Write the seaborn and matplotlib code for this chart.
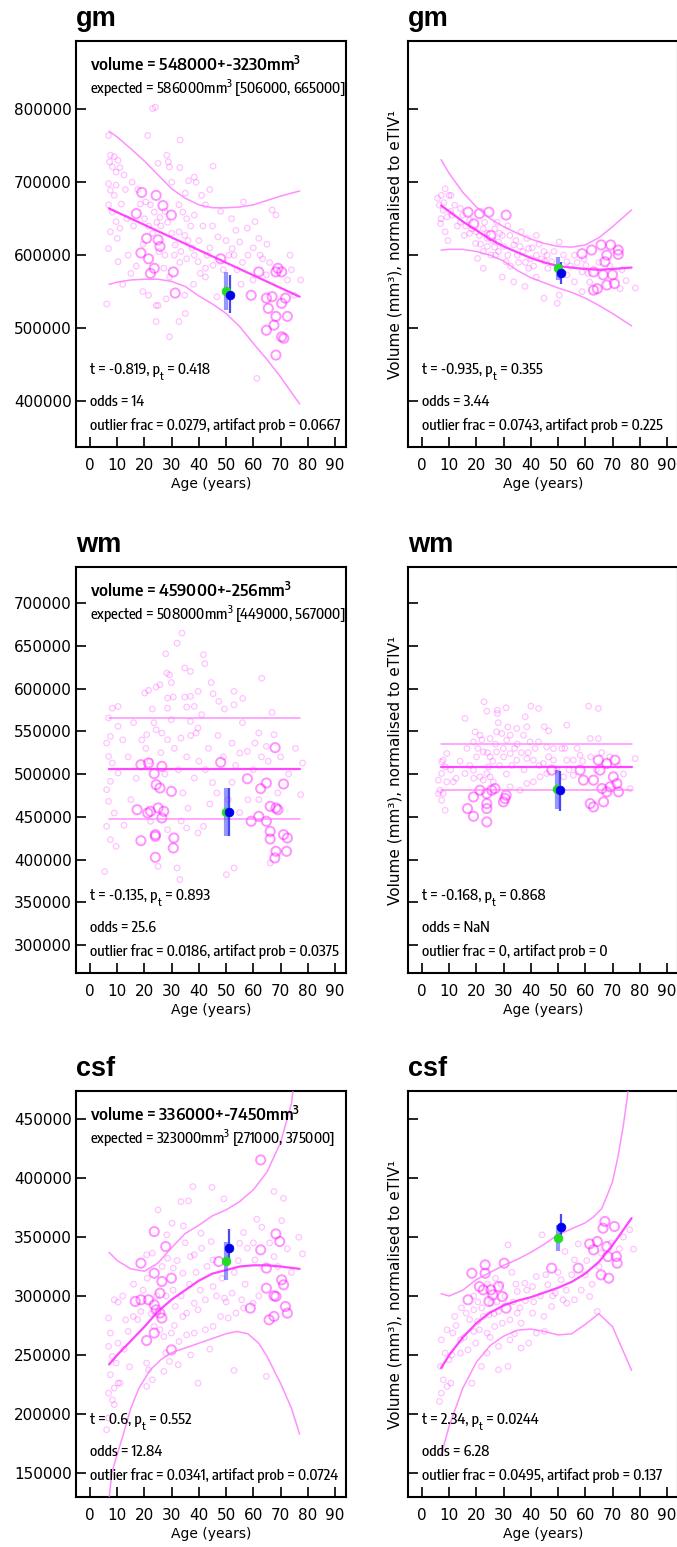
import os
import matplotlib
matplotlib.use("Agg")
import matplotlib.pyplot as plt
from matplotlib import font_manager as fm
from matplotlib.textpath import TextPath
import seaborn as sns

# ---------------- data ----------------
AGE_TICKS = [0, 10, 20, 30, 40, 50, 60, 70, 80, 90]
XLIM = (-5.15, 94.05)

GM_YTICKS = [400000, 500000, 600000, 700000, 800000]
GM_YLIM = (336900, 893700)
WM_YTICKS = [300000, 350000, 400000, 450000, 500000, 550000, 600000, 650000, 700000]
WM_YLIM = (267300, 742100)
CSF_YTICKS = [150000, 200000, 250000, 300000, 350000, 400000, 450000]
CSF_YLIM = (129700, 473700)

CURVE_AGE = [7, 10, 15, 20, 25, 30, 35, 40, 45, 50, 55, 60, 65, 70, 77]

# (age, volume, large-circle flag)
GM_LEFT_POINTS = [
    (23.0, 801000, 0), (24.0, 803000, 0), (6.8, 764000, 0), (21.2, 764000, 0), (33.1, 758000, 0),
    (7.5, 737000, 0), (8.9, 735000, 0), (7.2, 728000, 0), (10.3, 730000, 0), (8.2, 721000, 0),
    (9.6, 714000, 0), (11.0, 720000, 0), (28.2, 737000, 0), (28.8, 728000, 0), (29.2, 721000, 0),
    (25.0, 726000, 0), (45.2, 722000, 0), (38.3, 707000, 0), (36.2, 702000, 0), (39.0, 700000, 0),
    (6.8, 698000, 0), (9.6, 696000, 0), (7.5, 689000, 0), (8.9, 682000, 0), (19.0, 686000, 1),
    (24.3, 682000, 1), (26.8, 668000, 1), (29.9, 655000, 1), (17.0, 657000, 1), (20.5, 673000, 0),
    (22.2, 669000, 0), (23.6, 659000, 0), (25.7, 652000, 0), (32.7, 669000, 0), (34.1, 659000, 0),
    (35.5, 650000, 0), (38.3, 655000, 0), (41.0, 682000, 0), (42.4, 669000, 0), (56.4, 673000, 0),
    (66.9, 662000, 0), (68.3, 655000, 0), (6.8, 669000, 0), (8.2, 659000, 0), (9.6, 646000, 0),
    (11.0, 637000, 0), (7.5, 632000, 0), (10.0, 623000, 0), (6.8, 609000, 0), (10.3, 591000, 0),
    (20.8, 623000, 1), (25.0, 621000, 1), (25.7, 612000, 1), (25.3, 605000, 0), (18.7, 603000, 1),
    (21.5, 595000, 1), (23.6, 582000, 1), (27.1, 582000, 0), (30.6, 577000, 1), (22.2, 575000, 1),
    (29.2, 570000, 0), (32.7, 632000, 0), (34.8, 627000, 0), (31.3, 614000, 0), (33.4, 605000, 0),
    (35.5, 595000, 0), (38.3, 600000, 0), (39.7, 591000, 0), (42.4, 582000, 0), (45.2, 586000, 0),
    (48.0, 595000, 1), (53.6, 634000, 0), (57.8, 637000, 0), (60.6, 646000, 0), (62.0, 623000, 0),
    (55.0, 618000, 0), (52.2, 609000, 0), (52.9, 600000, 0), (63.4, 595000, 0), (62.0, 577000, 1),
    (59.9, 566000, 0), (64.8, 573000, 0), (69.0, 582000, 1), (68.3, 577000, 1), (70.4, 577000, 1),
    (72.5, 566000, 0), (77.4, 566000, 0), (59.2, 545000, 1), (64.8, 541000, 1), (66.9, 543000, 1),
    (71.8, 541000, 1), (70.4, 534000, 1), (65.5, 527000, 1), (68.3, 516000, 1), (72.5, 516000, 1),
    (67.6, 504000, 1), (64.8, 497000, 1), (70.4, 488000, 1), (71.2, 486000, 1), (68.3, 463000, 1),
    (61.3, 431000, 0), (29.2, 488000, 0), (32.7, 509000, 0), (24.3, 509000, 0), (25.0, 531000, 0),
    (19.4, 550000, 0), (21.5, 545000, 0), (24.3, 531000, 0), (31.3, 548000, 1), (34.8, 545000, 0),
    (42.4, 570000, 0), (46.6, 543000, 0), (6.1, 533000, 0), (12.0, 560000, 0), (15.0, 575000, 0),
    (14.0, 600000, 0), (16.0, 640000, 0), (13.0, 690000, 0), (45.0, 640000, 0), (50.0, 620000, 0),
    (58.0, 600000, 0), (74.0, 580000, 0), (37.0, 640000, 0), (27.5, 600000, 0), (19.5, 615000, 0),
    (15.5, 700000, 0), (17.5, 690000, 0), (18.5, 670000, 0), (20.0, 650000, 0), (21.5, 640000, 0),
    (23.0, 630000, 0), (24.5, 645000, 0), (26.0, 640000, 0), (27.5, 660000, 0), (28.5, 645000, 0),
    (30.0, 630000, 0), (31.0, 600000, 0), (33.0, 590000, 0), (36.0, 620000, 0), (37.5, 610000, 0),
    (40.0, 620000, 0), (41.5, 640000, 0), (43.0, 600000, 0), (44.0, 610000, 0), (47.0, 625000, 0),
    (49.0, 580000, 0), (51.0, 600000, 0), (54.0, 580000, 0), (56.0, 590000, 0), (60.0, 610000, 0),
    (62.5, 600000, 0), (65.0, 615000, 0), (66.0, 590000, 0), (73.5, 600000, 0), (75.0, 545000, 0),
    (17.0, 585000, 0), (13.5, 650000, 0), (12.5, 710000, 0), (11.5, 670000, 0), (30.0, 700000, 0),
    (33.0, 720000, 0), (35.0, 685000, 0), (44.0, 690000, 0), (48.0, 660000, 0), (52.0, 650000, 0),
    (55.5, 560000, 0), (38.0, 560000, 0), (28.0, 540000, 0), (35.0, 520000, 0), (40.5, 575000, 0),
]

GM_RIGHT_POINTS = [
    (5.7, 678000, 0), (7.1, 682000, 0), (8.5, 691000, 0), (9.9, 682000, 0), (6.4, 668500, 0),
    (7.8, 661600, 0), (9.2, 652500, 0), (6.8, 643400, 0), (8.5, 632000, 0), (10.6, 682000, 0),
    (12.0, 668500, 0), (14.1, 664000, 0), (16.9, 659000, 1), (21.1, 657000, 1), (24.6, 659000, 1),
    (30.9, 655000, 1), (19.0, 643000, 1), (22.5, 636500, 0), (25.3, 627000, 1), (28.1, 618000, 0),
    (23.9, 623000, 0), (26.7, 611000, 0), (19.7, 616000, 0), (22.5, 605000, 0), (20.4, 595500, 0),
    (25.3, 600000, 0), (32.3, 627000, 0), (36.4, 632000, 0), (38.5, 623000, 0), (42.0, 627000, 0),
    (39.2, 609000, 0), (44.8, 605000, 0), (47.6, 591000, 0), (50.4, 618000, 0), (56.0, 600000, 0),
    (58.8, 602000, 1), (62.3, 607000, 1), (65.8, 614000, 1), (69.3, 614000, 1), (72.1, 607000, 1),
    (72.1, 601000, 1), (67.9, 600000, 1), (67.2, 591000, 1), (60.2, 586000, 0), (63.0, 577000, 1),
    (66.5, 573000, 1), (70.0, 573000, 1), (70.7, 561000, 1), (67.9, 559000, 1), (64.4, 554000, 1),
    (63.0, 552000, 1), (72.8, 554000, 0), (78.4, 555000, 0), (49.7, 534000, 0), (44.8, 541000, 0),
    (37.8, 557000, 0), (33.7, 563500, 0), (29.5, 570000, 0), (22.5, 582000, 0), (42.0, 570000, 0),
    (53.2, 573000, 0), (56.0, 563500, 0), (58.8, 550000, 0), (18.3, 636000, 0), (21.1, 627000, 0),
    (26.7, 636000, 0), (29.5, 627000, 0), (33.7, 614000, 0), (35.0, 600000, 0), (30.9, 591000, 0),
    (28.1, 605000, 0), (42.0, 600000, 0), (46.2, 582000, 0), (53.2, 591000, 0), (58.8, 577000, 0),
    (61.6, 563000, 0), (50.4, 545000, 0), (39.2, 582000, 0), (14.1, 645000, 0), (15.5, 627000, 0),
    (27.5, 645000, 0), (31.5, 640000, 0), (24.0, 612000, 0), (36.0, 612000, 0), (40.0, 595000, 0),
    (45.0, 592000, 0), (11.0, 655000, 0), (17.5, 648000, 0),
    (15.0, 655000, 0), (16.0, 640000, 0), (17.5, 630000, 0), (20.0, 632000, 0), (21.5, 615000, 0),
    (23.0, 645000, 0), (24.0, 630000, 0), (26.0, 620000, 0), (27.0, 600000, 0), (28.5, 630000, 0),
    (30.0, 612000, 0), (31.5, 600000, 0), (32.5, 585000, 0), (34.5, 620000, 0), (35.5, 590000, 0),
    (37.0, 605000, 0), (38.0, 590000, 0), (40.5, 610000, 0), (41.0, 585000, 0), (43.0, 615000, 0),
    (44.0, 595000, 0), (46.0, 600000, 0), (48.5, 605000, 0), (52.0, 600000, 0), (54.5, 585000, 0),
    (57.0, 590000, 0), (59.5, 595000, 0), (61.0, 575000, 0), (65.0, 590000, 0), (69.0, 585000, 0),
    (73.5, 580000, 0), (75.0, 565000, 0), (8.0, 672000, 0), (10.5, 660000, 0), (13.0, 640000, 0),
    (7.0, 650000, 0), (9.5, 620000, 0),
]

WM_LEFT_POINTS = [
    (33.8, 664800, 0), (32.0, 653000, 0), (27.8, 640600, 0), (41.7, 639500, 0), (42.2, 629000, 0),
    (34.8, 624000, 0), (36.9, 620000, 0), (44.5, 607000, 0), (63.1, 612000, 0), (28.2, 618000, 0),
    (29.2, 616000, 0), (29.9, 607000, 0), (20.1, 594700, 0), (21.5, 597800, 0), (24.3, 601700, 0),
    (25.7, 604400, 0), (28.5, 588800, 0), (30.6, 590000, 0), (34.8, 590000, 0), (36.9, 590800, 0),
    (39.7, 596600, 0), (45.2, 593900, 0), (52.9, 596600, 0), (56.1, 588400, 0), (47.3, 585000, 0),
    (49.4, 576000, 0), (52.9, 581000, 0), (38.3, 579000, 0), (35.5, 578300, 0), (28.5, 577000, 0),
    (22.9, 576000, 0), (29.9, 563500, 0), (36.9, 561600, 0), (41.0, 569400, 0), (8.2, 577000, 0),
    (10.3, 579000, 0), (66.9, 572000, 0), (6.8, 565500, 0), (10.3, 555700, 0), (7.5, 544000, 0),
    (6.1, 536200, 0), (6.8, 520600, 0), (8.2, 512900, 0), (10.3, 501200, 0), (7.5, 491400, 0),
    (6.1, 481700, 0), (6.8, 468000, 0), (8.9, 454400, 0), (6.1, 438800, 0), (7.5, 423200, 0),
    (9.6, 415500, 0), (5.4, 386000, 0), (24.3, 551800, 0), (26.4, 547900, 0), (20.8, 546000, 0),
    (28.5, 540100, 0), (33.4, 542000, 0), (39.0, 547900, 0), (39.7, 553800, 0), (52.2, 536200, 0),
    (60.6, 536200, 0), (62.0, 547900, 0), (67.6, 546000, 0), (68.0, 530800, 1), (64.8, 532300, 0),
    (57.8, 526500, 0), (55.0, 524500, 0), (18.7, 510900, 1), (21.5, 512900, 1), (23.6, 500400, 1),
    (26.4, 509000, 1), (24.3, 487500, 1), (25.7, 483600, 1), (29.9, 479700, 1), (34.1, 477800, 0),
    (38.3, 495300, 0), (42.4, 505100, 0), (48.0, 513600, 1), (52.2, 490200, 0), (57.8, 494500, 1),
    (62.7, 482900, 1), (64.8, 489500, 1), (71.1, 488300, 1), (69.0, 477800, 0), (62.0, 470000, 0),
    (66.2, 462200, 1), (69.0, 458300, 1), (68.3, 460300, 1), (17.3, 458300, 1), (21.2, 454400, 1),
    (22.2, 456400, 1), (27.1, 456400, 1), (25.0, 460300, 1), (26.4, 448600, 1), (22.2, 444700, 0),
    (59.2, 444700, 1), (62.0, 450500, 1), (64.8, 444700, 1), (66.2, 433000, 1), (71.1, 429100, 1),
    (72.5, 425200, 1), (66.2, 424000, 1), (18.7, 422000, 1), (24.0, 429100, 1), (24.0, 427100, 1),
    (30.8, 425200, 1), (30.6, 413500, 1), (24.0, 402600, 1), (68.3, 409600, 1), (67.9, 401800, 1),
    (72.2, 409600, 1), (25.0, 392000, 0), (32.0, 390100, 0), (33.0, 376500, 0), (50.1, 382300, 0),
    (52.9, 390100, 0), (66.2, 396000, 0), (35.5, 436900, 0), (41.7, 438800, 0), (39.7, 431000, 0),
    (28.5, 434900, 0), (46.6, 477800, 0), (50.8, 470000, 0), (78.1, 512900, 0), (77.4, 475900, 0),
    (12.0, 540000, 0), (14.0, 520000, 0), (16.0, 560000, 0), (17.0, 495000, 0), (19.0, 540000, 0),
    (20.5, 530000, 0), (22.0, 515000, 0), (23.5, 560000, 0), (26.0, 525000, 0), (27.5, 500000, 0),
    (31.0, 530000, 0), (32.5, 505000, 0), (35.5, 520000, 0), (37.0, 545000, 0), (40.0, 515000, 0),
    (43.5, 530000, 0), (45.0, 490000, 0), (47.0, 545000, 0), (49.0, 520000, 0), (53.5, 510000, 0),
    (56.0, 560000, 0), (58.0, 470000, 0), (60.0, 505000, 0), (63.0, 520000, 0), (65.5, 515000, 0),
    (70.0, 520000, 0), (73.0, 500000, 0), (75.5, 530000, 0), (36.0, 460000, 0), (44.0, 465000, 0),
    (33.5, 445000, 0), (55.0, 455000, 0), (15.0, 470000, 0), (12.5, 440000, 0),
]

WM_RIGHT_POINTS = [
    (22.8, 584500, 0), (15.8, 565000, 0), (23.8, 573500, 0), (27.7, 574700, 0), (27.7, 570800, 0),
    (30.9, 577500, 0), (37.9, 566900, 0), (40.0, 579400, 0), (42.8, 576700, 0), (38.5, 555200, 0),
    (44.9, 555200, 0), (46.5, 550500, 0), (53.2, 557200, 0), (61.2, 579400, 0), (64.8, 576700, 0),
    (19.5, 549300, 0), (21.3, 545400, 0), (25.0, 541500, 0), (27.4, 549300, 0), (29.3, 547400, 0),
    (31.1, 539600, 0), (32.4, 545400, 0), (34.8, 553300, 0), (37.3, 545400, 0), (39.7, 537600, 0),
    (42.8, 537600, 0), (45.8, 531800, 0), (48.3, 529800, 0), (51.4, 529800, 0), (58.1, 522000, 0),
    (61.8, 541500, 0), (64.8, 541500, 0), (18.9, 537600, 0), (22.5, 526000, 0), (25.0, 520100, 0),
    (27.4, 526000, 0), (29.9, 529800, 0), (32.4, 524000, 0), (34.8, 516200, 0), (38.5, 518100, 0),
    (40.9, 516200, 0), (44.6, 512300, 0), (48.3, 516200, 0), (53.2, 516200, 0), (55.6, 516200, 0),
    (9.1, 524000, 0), (7.8, 516200, 0), (7.2, 514200, 0), (8.5, 508400, 0), (7.2, 500600, 0),
    (6.0, 492800, 0), (9.1, 490800, 0), (6.6, 481000, 0), (7.8, 477100, 0), (7.2, 469300, 0),
    (8.5, 457600, 0), (6.0, 477100, 0), (11.5, 490800, 0), (15.8, 500600, 0), (18.9, 504500, 0),
    (21.3, 496700, 0), (22.5, 492800, 0), (23.8, 500600, 0), (24.4, 508400, 0), (25.0, 496700, 0),
    (26.2, 490800, 0), (25.6, 481000, 1), (26.8, 483000, 1), (23.8, 477100, 1), (21.3, 481000, 1),
    (18.9, 473200, 1), (23.8, 465400, 1), (23.8, 459600, 1), (23.8, 444000, 1), (16.7, 459600, 1),
    (18.9, 450600, 1), (29.9, 467400, 1), (30.9, 475200, 1), (30.5, 471300, 1), (32.4, 485000, 0),
    (36.0, 481000, 0), (38.5, 488900, 0), (40.9, 490800, 0), (43.4, 496700, 0), (45.8, 500600, 0),
    (47.7, 504500, 1), (58.1, 504500, 1), (59.3, 492800, 1), (63.0, 492800, 1), (65.4, 504500, 1),
    (67.9, 512300, 1), (70.9, 516200, 1), (66.1, 483000, 1), (69.1, 485000, 1), (70.3, 496700, 1),
    (71.6, 488900, 1), (72.2, 479100, 1), (67.9, 479100, 1), (61.8, 465400, 1), (63.0, 461500, 1),
    (66.7, 467400, 1), (78.3, 518100, 0), (76.5, 483000, 0), (64.8, 516200, 1), (55.6, 498600, 0),
    (52.0, 496700, 0), (28.0, 560000, 0), (35.0, 535000, 0), (20.0, 520000, 0), (31.0, 500000, 0),
    (16.5, 530000, 0), (17.5, 510000, 0), (19.0, 495000, 0), (20.5, 530000, 0), (22.0, 540000, 0),
    (24.0, 525000, 0), (26.0, 515000, 0), (27.0, 535000, 0), (28.5, 510000, 0), (30.0, 520000, 0),
    (31.5, 555000, 0), (33.0, 510000, 0), (34.0, 530000, 0), (36.5, 525000, 0), (37.5, 505000, 0),
    (39.0, 525000, 0), (41.5, 530000, 0), (43.0, 510000, 0), (46.5, 520000, 0), (49.5, 505000, 0),
    (52.5, 530000, 0), (54.0, 505000, 0), (57.0, 530000, 0), (59.0, 515000, 0), (62.0, 520000, 0),
    (64.0, 505000, 0), (66.0, 525000, 0), (69.0, 520000, 0), (72.0, 510000, 0), (74.0, 500000, 0),
    (10.5, 505000, 0), (12.5, 495000, 0), (14.0, 515000, 0),
]

CSF_LEFT_POINTS = [
    (62.7, 415300, 1), (37.8, 392700, 0), (44.8, 392100, 0), (49.2, 382300, 0), (33.4, 380000, 0),
    (36.2, 380600, 0), (67.6, 388500, 0), (71.1, 382800, 0), (25.0, 373000, 0), (30.1, 361700, 0),
    (34.3, 359400, 0), (28.2, 351800, 0), (40.8, 353200, 0), (56.4, 353800, 0), (61.3, 365100, 0),
    (63.1, 358300, 0), (70.4, 363900, 0), (76.7, 349800, 0), (78.1, 335700, 0), (23.6, 354600, 1),
    (18.7, 327800, 1), (23.6, 319300, 1), (20.8, 334900, 0), (22.9, 336300, 0), (27.8, 341900, 1),
    (28.5, 332000, 0), (29.9, 315100, 1), (26.4, 312300, 1), (30.6, 323600, 0), (34.1, 319300, 0),
    (36.9, 333400, 0), (38.3, 334900, 0), (41.0, 340500, 0), (45.2, 330600, 0), (47.3, 329200, 1),
    (44.5, 346200, 0), (55.0, 344700, 0), (57.8, 340500, 0), (62.7, 339100, 1), (60.6, 330600, 0),
    (68.3, 352600, 1), (69.7, 346200, 1), (67.6, 333400, 0), (64.8, 323600, 1), (70.4, 313700, 1),
    (71.1, 309500, 1), (64.8, 306600, 1), (68.3, 299600, 1), (67.6, 300200, 1), (71.8, 291100, 1),
    (72.5, 285500, 1), (67.6, 282700, 1), (65.8, 279800, 1), (58.9, 289700, 1), (59.9, 293900, 0),
    (55.7, 296800, 0), (52.2, 302400, 0), (49.4, 298200, 0), (45.2, 308000, 0), (42.4, 296800, 0),
    (39.7, 288300, 0), (38.3, 293900, 0), (35.5, 285500, 0), (34.1, 282700, 0), (31.3, 291100, 0),
    (25.7, 302400, 1), (16.6, 295400, 1), (18.7, 296800, 1), (21.5, 296800, 1), (23.6, 292500, 1),
    (25.7, 285500, 1), (26.4, 281300, 1), (24.3, 288300, 1), (20.8, 262300, 1), (23.6, 268600, 1),
    (29.9, 254400, 1), (32.7, 261500, 0), (35.5, 267100, 0), (38.3, 268600, 0), (42.4, 271400, 0),
    (45.2, 274200, 0), (48.0, 282700, 0), (50.8, 281300, 0), (53.6, 285500, 0), (56.4, 289700, 0),
    (27.8, 251600, 0), (29.2, 244600, 0), (20.8, 243200, 0), (21.5, 237500, 0), (22.9, 229000, 0),
    (20.8, 223400, 0), (27.1, 236100, 0), (32.4, 241700, 0), (39.7, 226200, 0), (52.9, 236900, 0),
    (64.8, 231900, 0), (6.8, 281300, 0), (8.9, 296800, 0), (10.3, 294800, 0), (7.5, 268600, 0),
    (10.3, 260100, 0), (6.8, 257300, 0), (8.2, 248800, 0), (9.6, 243200, 0), (7.5, 233300, 0),
    (10.3, 226200, 0), (8.9, 222000, 0), (11.0, 226200, 0), (6.8, 217700, 0), (8.2, 212100, 0),
    (8.9, 207900, 0), (6.8, 196600, 0), (6.1, 186700, 0), (23.6, 274200, 0), (25.7, 271400, 0),
    (27.1, 265700, 0), (29.9, 268600, 0), (13.1, 279800, 0), (15.9, 282700, 0), (18.7, 286900, 0),
    (12.0, 300000, 0), (14.0, 270000, 0), (16.0, 310000, 0), (17.5, 280000, 0), (19.5, 305000, 0),
    (21.0, 315000, 0), (22.5, 285000, 0), (24.5, 300000, 0), (26.5, 325000, 0), (28.0, 300000, 0),
    (30.5, 305000, 0), (32.0, 330000, 0), (33.5, 300000, 0), (35.0, 345000, 0), (36.5, 310000, 0),
    (39.0, 320000, 0), (40.5, 305000, 0), (43.0, 325000, 0), (46.5, 300000, 0), (48.5, 315000, 0),
    (50.0, 295000, 0), (53.0, 320000, 0), (54.5, 330000, 0), (57.0, 310000, 0), (60.0, 345000, 0),
    (62.0, 300000, 0), (66.0, 345000, 0), (69.0, 325000, 0), (72.5, 340000, 0), (74.0, 320000, 0),
    (31.0, 275000, 0), (37.0, 250000, 0), (44.0, 255000, 0), (14.5, 240000, 0), (12.5, 255000, 0),
]

CSF_RIGHT_POINTS = [
    (67.2, 363100, 1), (70.7, 358900, 1), (66.5, 357400, 1), (61.6, 344200, 1), (64.4, 346200, 1),
    (67.9, 341900, 1), (63.0, 339100, 1), (65.8, 336300, 0), (71.4, 333400, 1), (71.7, 327800, 1),
    (68.3, 333400, 1), (65.8, 317900, 1), (68.6, 315100, 1), (57.4, 323600, 1), (56.0, 330600, 0),
    (52.5, 337700, 0), (57.4, 344200, 0), (47.6, 323600, 1), (44.1, 351800, 0), (31.6, 343300, 0),
    (77.7, 339700, 0), (76.3, 356100, 0), (23.2, 326400, 1), (23.2, 319300, 1), (18.3, 319300, 1),
    (30.2, 327800, 1), (21.1, 308000, 1), (22.5, 305200, 1), (25.3, 305200, 1), (28.1, 308000, 1),
    (29.5, 299600, 1), (24.6, 295400, 1), (16.9, 296800, 1), (26.0, 301000, 1), (35.0, 303800, 0),
    (37.8, 310900, 0), (40.6, 308000, 0), (42.0, 316500, 0), (46.2, 309500, 0), (49.0, 302400, 0),
    (51.8, 296800, 0), (56.0, 296800, 0), (53.2, 293900, 0), (61.6, 299600, 0), (51.1, 313700, 0),
    (47.6, 291100, 0), (44.8, 282700, 0), (40.6, 285500, 0), (35.0, 285500, 0), (30.9, 289700, 1),
    (28.1, 286900, 0), (25.3, 293900, 0), (24.6, 284100, 0), (22.5, 282700, 0), (20.4, 278400, 0),
    (21.1, 271400, 0), (23.9, 268600, 0), (26.7, 274200, 0), (29.5, 277000, 0), (32.3, 279800, 0),
    (36.4, 277000, 0), (42.0, 268600, 0), (39.2, 260100, 0), (36.4, 255900, 0), (32.3, 262900, 0),
    (28.1, 257300, 0), (23.9, 251600, 0), (19.7, 260100, 0), (16.9, 254400, 0), (14.1, 262900, 0),
    (11.3, 268600, 0), (9.2, 271400, 0), (7.1, 262900, 0), (8.5, 251600, 0), (9.9, 246000, 0),
    (6.8, 240300, 0), (7.8, 229000, 0), (9.2, 223400, 0), (7.1, 217700, 0), (6.4, 210700, 0),
    (10.6, 226200, 0), (18.3, 226200, 0), (21.8, 240300, 0), (28.1, 237500, 0), (31.6, 240300, 0),
    (64.4, 286900, 0), (14.1, 251600, 0), (12.0, 282700, 0), (16.2, 285500, 0), (19.0, 288300, 0),
    (27.0, 315000, 0), (33.0, 320000, 0), (38.0, 296000, 0), (19.0, 300000, 0), (60.0, 318000, 0),
    (12.5, 275000, 0), (14.5, 290000, 0), (17.5, 280000, 0), (19.0, 270000, 0), (20.5, 295000, 0),
    (22.0, 290000, 0), (24.0, 310000, 0), (26.5, 285000, 0), (27.5, 295000, 0), (29.0, 310000, 0),
    (30.5, 300000, 0), (33.5, 295000, 0), (34.5, 310000, 0), (36.0, 290000, 0), (38.5, 305000, 0),
    (41.0, 295000, 0), (43.5, 300000, 0), (45.5, 318000, 0), (48.0, 300000, 0), (50.0, 320000, 0),
    (53.0, 305000, 0), (55.0, 318000, 0), (58.5, 305000, 0), (60.5, 330000, 0), (62.5, 310000, 0),
    (65.0, 325000, 0), (69.5, 345000, 0), (72.5, 340000, 0), (74.0, 350000, 0), (15.5, 265000, 0),
    (25.0, 265000, 0), (34.0, 268000, 0), (45.0, 270000, 0), (11.0, 250000, 0),
]

# fitted curves (mean, upper, lower)
GM_LEFT_MEAN_AGE = [7, 77]
GM_LEFT_MEAN = [664000, 543000]
GM_LEFT_UPPER = [770000, 762000, 746000, 729000, 710000, 691000, 678000, 669000, 665000, 665000,
                 666000, 669000, 675000, 681000, 688000]
GM_LEFT_LOWER = [560000, 563000, 566000, 567000, 567000, 564000, 557000, 544000, 533000, 520000,
                 502000, 479000, 457000, 433000, 396000]

GM_RIGHT_MEAN = [668000, 660000, 646000, 634000, 622000, 612000, 604000, 596000, 590000, 585000,
                 583000, 581000, 580000, 581000, 583000]
GM_RIGHT_UPPER = [731000, 712000, 686000, 666000, 650000, 639000, 630000, 622000, 616000, 612000,
                  611000, 614000, 624000, 639000, 662000]
GM_RIGHT_LOWER = [607000, 608000, 608000, 605000, 600000, 592000, 579000, 569000, 562000, 555000,
                  549000, 541000, 531000, 520000, 503000]

FLAT_AGE = [7, 77]
WM_LEFT_MEAN = [506000, 506000]
WM_LEFT_UPPER = [565000, 565000]
WM_LEFT_LOWER = [447000, 447000]
WM_RIGHT_MEAN = [508500, 508500]
WM_RIGHT_UPPER = [535500, 535500]
WM_RIGHT_LOWER = [481500, 481500]

CSF_LEFT_MEAN = [242000, 250000, 262000, 274000, 287000, 297000, 305000, 313000, 319000, 322000,
                 325000, 326000, 326000, 325000, 323000]
CSF_LEFT_UPPER_AGE = [7, 10, 15, 20, 25, 30, 35, 40, 45, 50, 55, 60, 65, 70, 74, 77]
CSF_LEFT_UPPER = [337000, 330000, 323000, 321000, 328000, 341000, 353000, 360000, 368000, 373000,
                  380000, 390000, 405000, 430000, 463000, 520000]
CSF_LEFT_LOWER_AGE = [7, 8, 10, 12, 15, 18, 22, 26, 30, 35, 40, 45, 50, 54, 58, 62, 65, 70, 74, 77]
CSF_LEFT_LOWER = [128000, 150000, 166000, 181000, 205000, 222000, 237000, 246000, 252000, 256000,
                  260000, 264000, 268000, 270000, 268000, 260000, 249000, 226000, 205000, 183000]

CSF_RIGHT_MEAN = [239000, 250000, 265000, 277000, 286000, 292000, 296000, 299000, 303000, 307000,
                  312000, 319000, 329000, 343000, 366000]
CSF_RIGHT_UPPER_AGE = [7, 10, 15, 20, 25, 30, 35, 40, 45, 50, 55, 60, 63, 66, 68, 70, 72, 74, 75.5, 77]
CSF_RIGHT_UPPER = [302000, 300000, 305000, 314000, 320000, 326000, 331000, 337000, 344000, 352000,
                   357000, 362000, 367000, 374000, 385000, 397000, 418000, 445000, 470000, 500000]
CSF_RIGHT_LOWER_AGE = [7, 10, 15, 20, 25, 30, 35, 40, 45, 50, 55, 60, 65, 70, 77]
CSF_RIGHT_LOWER = [165000, 190000, 222000, 244000, 258000, 266000, 271000, 272000, 270000, 267000,
                   268000, 276000, 285000, 274000, 237000]

# subject: (age, value, bar low, bar high) for expected (green) and measured (blue)
GM_LEFT_SUBJECT = [(50.1, 550700, 525000, 577000), (51.3, 546000, 520000, 573000)]
GM_RIGHT_SUBJECT = [(50.0, 582700, 566000, 597000), (51.1, 575500, 561000, 590000)]
WM_LEFT_SUBJECT = [(49.9, 456000, 428000, 484000), (51.1, 456000, 428000, 484000)]
WM_RIGHT_SUBJECT = [(49.7, 482900, 459600, 505200), (50.8, 480900, 456800, 503700)]
CSF_LEFT_SUBJECT = [(49.9, 329800, 313600, 346000), (51.0, 340500, 328000, 356800)]
CSF_RIGHT_SUBJECT = [(49.8, 349000, 338400, 360200), (50.9, 358700, 350300, 369500)]

SUP3 = r"$^{\mathregular{3}}$"
TITLES = ["gm", "gm", "wm", "wm", "csf", "csf"]
VOLUME_TEXT = ["volume = 548000+-3230mm" + SUP3, None, "volume = 459000+-256mm" + SUP3, None,
               "volume = 336000+-7450mm" + SUP3, None]
EXPECTED_TEXT = ["expected = 586000mm" + SUP3 + " [506000, 665000]", None,
                 "expected = 508000mm" + SUP3 + " [449000, 567000]", None,
                 "expected = 323000mm" + SUP3 + " [271000, 375000]", None]
T_VALUES = [("-0.819", "0.418"), ("-0.935", "0.355"), ("-0.135", "0.893"), ("-0.168", "0.868"),
            ("0.6", "0.552"), ("2.34", "0.0244")]
ODDS = ["14", "3.44", "25.6", "NaN", "12.84", "6.28"]
OUTLIER = [("0.0279", "0.0667"), ("0.0743", "0.225"), ("0.0186", "0.0375"), ("0", "0"),
           ("0.0341", "0.0724"), ("0.0495", "0.137")]
YLABEL = "Volume (mm³), normalised to eTIV¹"
XLABEL = "Age (years)"

# ---------------- style ----------------
sns.set_style("white")
plt.rcParams["font.family"] = ["DejaVu Sans"]
plt.rcParams.update({
    "axes.linewidth": 1.5, "axes.edgecolor": "black", "text.color": "black",
    "axes.labelcolor": "black", "xtick.color": "black", "ytick.color": "black",
})

fig = plt.figure(figsize=(6.77, 15.47), dpi=100)
renderer = fig.canvas.get_renderer()


def text_width(s, fp, size):
    p = fp.copy()
    p.set_size(size)
    t = fig.text(0, 0, s, fontproperties=p)
    w = t.get_window_extent(renderer).width
    t.remove()
    return w


def glyph_height(fp, size):
    p = fp.copy()
    p.set_size(size)
    return TextPath((0, 0), "0", prop=p).get_extents().height * 100.0 / 72.0


def weight_of(f):
    if isinstance(f.weight, int):
        return f.weight
    return 700 if "bold" in str(f.weight).lower() else 400


def candidates(bold):
    out = []
    for f in fm.fontManager.ttflist:
        nm = (f.name + " " + os.path.basename(f.fname)).lower()
        if "italic" in nm or f.style != "normal" or "mono" in nm:
            continue
        if "sans" not in nm and "roboto" not in nm and "lato" not in nm and "inter" not in nm:
            continue
        if "cjk" in nm or "symbol" in nm:
            continue
        w = weight_of(f)
        if bold and not (600 <= w <= 800):
            continue
        if not bold and not (350 <= w <= 500):
            continue
        out.append(fm.FontProperties(fname=f.fname))
    return out


def best_face(bold, sample, target_w, target_h, base):
    best = None
    for fp in candidates(bold):
        try:
            w = text_width(sample, fp, base)
            if w <= 0:
                continue
            size = base * target_w / w
            h = glyph_height(fp, size)
        except Exception:
            continue
        score = abs(h - target_h)
        if best is None or score < best[0]:
            best = (score, fp, size)
    if best is None:
        fp = fm.FontProperties(family=["DejaVu Sans"], weight="bold" if bold else "normal")
        return fp, base * target_w / text_width(sample, fp, base)
    return best[1], best[2]


FP_REG, REG_SIZE = best_face(False, "outlier frac = 0.0279, artifact prob = 0.0667", 252, 11.3, 11.7)
FP_BOLD, BOLD_SIZE = best_face(True, "volume = 548000+-3230mm3", 212, 12.5, 13.5)
fp_reg = FP_REG.copy()
fp_reg.set_size(REG_SIZE)
fp_sub = FP_REG.copy()
fp_sub.set_size(REG_SIZE * 0.72)
fp_bold = FP_BOLD.copy()
fp_bold.set_size(BOLD_SIZE)
fp_title = fm.FontProperties(family=["Liberation Sans", "DejaVu Sans"], weight="bold", size=19.5)

MAG = (1.0, 0.0, 1.0)
W, H = 677.0, 1547.0
col_left = [76, 408]
row_top = [41, 567, 1091]
ax_w, ax_h = 270, 406

panels = [
    dict(points=GM_LEFT_POINTS, ylim=GM_YLIM, yticks=GM_YTICKS,
         curves=[(GM_LEFT_MEAN_AGE, GM_LEFT_MEAN, "m"), (CURVE_AGE, GM_LEFT_UPPER, "b"),
                 (CURVE_AGE, GM_LEFT_LOWER, "b")], subject=GM_LEFT_SUBJECT),
    dict(points=GM_RIGHT_POINTS, ylim=GM_YLIM, yticks=GM_YTICKS,
         curves=[(CURVE_AGE, GM_RIGHT_MEAN, "m"), (CURVE_AGE, GM_RIGHT_UPPER, "b"),
                 (CURVE_AGE, GM_RIGHT_LOWER, "b")], subject=GM_RIGHT_SUBJECT),
    dict(points=WM_LEFT_POINTS, ylim=WM_YLIM, yticks=WM_YTICKS,
         curves=[(FLAT_AGE, WM_LEFT_MEAN, "m"), (FLAT_AGE, WM_LEFT_UPPER, "b"),
                 (FLAT_AGE, WM_LEFT_LOWER, "b")], subject=WM_LEFT_SUBJECT),
    dict(points=WM_RIGHT_POINTS, ylim=WM_YLIM, yticks=WM_YTICKS,
         curves=[(FLAT_AGE, WM_RIGHT_MEAN, "m"), (FLAT_AGE, WM_RIGHT_UPPER, "b"),
                 (FLAT_AGE, WM_RIGHT_LOWER, "b")], subject=WM_RIGHT_SUBJECT),
    dict(points=CSF_LEFT_POINTS, ylim=CSF_YLIM, yticks=CSF_YTICKS,
         curves=[(CURVE_AGE, CSF_LEFT_MEAN, "m"), (CSF_LEFT_UPPER_AGE, CSF_LEFT_UPPER, "b"),
                 (CSF_LEFT_LOWER_AGE, CSF_LEFT_LOWER, "b")], subject=CSF_LEFT_SUBJECT),
    dict(points=CSF_RIGHT_POINTS, ylim=CSF_YLIM, yticks=CSF_YTICKS,
         curves=[(CURVE_AGE, CSF_RIGHT_MEAN, "m"), (CSF_RIGHT_UPPER_AGE, CSF_RIGHT_UPPER, "b"),
                 (CSF_RIGHT_LOWER_AGE, CSF_RIGHT_LOWER, "b")], subject=CSF_RIGHT_SUBJECT),
]

for i, p in enumerate(panels):
    r, c = divmod(i, 2)
    left = col_left[c] / W
    bottom = 1 - (row_top[r] + ax_h) / H
    ax = fig.add_axes([left, bottom, ax_w / W, ax_h / H])
    ax.set_facecolor("white")

    ages = [q[0] for q in p["points"]]
    vals = [q[1] for q in p["points"]]
    big = [q[2] for q in p["points"]]
    sa = [a for a, b in zip(ages, big) if not b]
    sv = [v for v, b in zip(vals, big) if not b]
    la = [a for a, b in zip(ages, big) if b]
    lv = [v for v, b in zip(vals, big) if b]
    sns.scatterplot(x=sa, y=sv, ax=ax, s=16, facecolor="none",
                    edgecolor=MAG + (0.24,), linewidth=0.9, legend=False, zorder=2)
    sns.scatterplot(x=la, y=lv, ax=ax, s=44, facecolor="none",
                    edgecolor=MAG + (0.42,), linewidth=1.4, legend=False, zorder=2)

    for xs, ys, kind in p["curves"]:
        if kind == "m":
            sns.lineplot(x=xs, y=ys, ax=ax, color=(1.0, 0.2, 1.0), linewidth=1.6,
                         alpha=0.9, estimator=None, sort=False, zorder=3)
        else:
            sns.lineplot(x=xs, y=ys, ax=ax, color=(1.0, 0.45, 1.0), linewidth=1.1,
                         alpha=0.8, estimator=None, sort=False, zorder=3)

    (ga, gv, glo, ghi), (ba, bv, blo, bhi) = p["subject"]
    ax.vlines([ga], [glo], [ghi], colors=[(0.25, 0.25, 1.0)], linewidth=3.0, alpha=0.55, zorder=4)
    ax.vlines([ba], [blo], [bhi], colors=[(0.1, 0.1, 0.95)], linewidth=1.6, alpha=0.8, zorder=4)
    sns.scatterplot(x=[ga], y=[gv], ax=ax, s=40, color="#22dd22", edgecolor="#22dd22",
                    linewidth=0.5, legend=False, zorder=5)
    sns.scatterplot(x=[ba], y=[bv], ax=ax, s=40, color="#0000ee", edgecolor="#0000ee",
                    linewidth=0.5, legend=False, zorder=6)

    ax.set_xlim(*XLIM)
    ax.set_ylim(*p["ylim"])
    ax.set_xticks(AGE_TICKS)
    ax.set_xticklabels([str(t) for t in AGE_TICKS])
    ax.set_yticks(p["yticks"])
    if c == 0:
        ax.set_yticklabels([str(t) for t in p["yticks"]])
        ax.set_ylabel("")
    else:
        ax.set_yticklabels([])
        ax.set_ylabel(YLABEL, fontsize=11, labelpad=1)
    ax.tick_params(axis="both", which="major", direction="in", length=7, width=1.2,
                   colors="black", labelsize=11, bottom=True, left=True, top=False, right=False)
    ax.tick_params(axis="x", pad=8)
    ax.tick_params(axis="y", pad=3)
    ax.set_xlabel(XLABEL, fontsize=10, labelpad=3)
    for s in ax.spines.values():
        s.set_visible(True)
        s.set_linewidth(1.5)
        s.set_color("black")

    ax.text(0.0, 1 + 15 / ax_h, TITLES[i], transform=ax.transAxes, ha="left", va="baseline",
            fontproperties=fp_title, color="black")
    tx = 14 / ax_w
    if VOLUME_TEXT[i]:
        ax.text(tx, 0.942, VOLUME_TEXT[i], transform=ax.transAxes, ha="left", va="center",
                fontproperties=fp_bold)
        ax.text(tx, 0.884, EXPECTED_TEXT[i], transform=ax.transAxes, ha="left", va="center",
                fontproperties=fp_reg)
    tv, pv = T_VALUES[i]
    t1 = ax.text(tx, 0.179, "t = " + tv + ", p", transform=ax.transAxes,
                 ha="left", va="baseline", fontproperties=fp_reg)
    t2 = ax.annotate("t", xy=(1, 0), xycoords=t1, xytext=(0.3, -2.2),
                     textcoords="offset points", ha="left", va="baseline",
                     fontproperties=fp_sub)
    ax.annotate(" = " + pv, xy=(1, 0), xycoords=(t2, t1), xytext=(0, 0),
                textcoords="offset points", ha="left", va="bottom", fontproperties=fp_reg)
    ax.text(tx, 0.112, "odds = " + ODDS[i], transform=ax.transAxes, ha="left", va="center",
            fontproperties=fp_reg)
    of, ap = OUTLIER[i]
    ax.text(tx, 0.054, "outlier frac = " + of + ", artifact prob = " + ap,
            transform=ax.transAxes, ha="left", va="center", fontproperties=fp_reg)

fig.savefig("out.png", dpi=100, facecolor="white")
